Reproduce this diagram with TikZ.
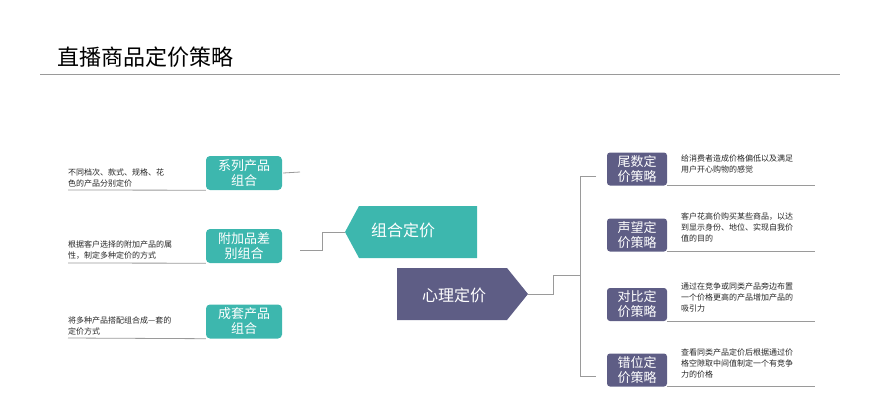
\documentclass[tikz,border=0pt]{standalone}
\usepackage{fontspec}
\setmainfont{Noto Sans CJK SC}
\usetikzlibrary{positioning}
\definecolor{teal1}{HTML}{3DB7AE}
\definecolor{plum1}{HTML}{5E5D85}
\definecolor{rule1}{HTML}{9A9A9A}
\tikzset{
  tealbox/.style={fill=teal1, text=white, minimum width=76pt, minimum height=34pt,
    align=center, inner sep=0pt, font=\fontsize{13}{15}\selectfont, rounded corners=4pt},
  plumbox/.style={fill=plum1, text=white, minimum width=60pt, minimum height=33pt,
    align=center, inner sep=0pt, font=\fontsize{13}{15}\selectfont, rounded corners=3pt},
  note/.style={align=left, inner sep=0pt, text=black!85, font=\fontsize{8}{11}\selectfont},
  conn/.style={draw=rule1, line width=0.8pt}
}
\begin{document}
\begin{tikzpicture}[x=1pt, y=-1pt]
  \useasboundingbox (0,0) rectangle (889,400);

  \node [anchor=west, font=\fontsize{22}{26}\selectfont] (title) at (54,57) {直播商品定价策略};
  \draw [conn] (40,74) -- (840,74);

  % left: bundle pricing
  \node [tealbox] (xilie) at (244,173) {系列产品\\组合};
  \node [tealbox] (fujia) at (244,246) {附加品差\\别组合};
  \node [tealbox] (chengtao) at (244,321.5) {成套产品\\组合};

  \node [note, anchor=south west] (n1) at (68,187) {不同档次、款式、规格、花\\色的产品分别定价};
  \node [note, anchor=south west] (n2) at (68,260) {根据客户选择的附加产品的属\\性，制定多种定价的方式};
  \node [note, anchor=south west] (n3) at (68,335) {将多种产品搭配组合成—套的\\定价方式};
  \draw [conn] (68,190) -- (xilie.south west);
  \draw [conn] (68,263) -- (fujia.south west);
  \draw [conn] (68,338) -- (chengtao.south west);

  \coordinate (tipL) at (345,232);
  \fill [teal1] (tipL) -- (359,206) -- (477,206) -- (477,258) -- (359,258) -- cycle;
  \node [text=white, font=\fontsize{16}{18}\selectfont] (zuhe) at (403,230) {组合定价};
  \coordinate (endA) at (300,172);
  \coordinate (endB) at (300,250);
  \draw [conn] (xilie.east) ++(1,0) -- (endA);
  \draw [conn] (endB) -| (322,232) -- (tipL);

  % right: psychological pricing
  \coordinate (tipR) at (528,294);
  \fill [plum1] (397,268) -- (507,268) -- (tipR) -- (507,320) -- (397,320) -- cycle;
  \node [text=white, font=\fontsize{16}{18}\selectfont] (xinli) at (454,295) {心理定价};

  \node [plumbox] (weishu) at (637,169) {尾数定\\价策略};
  \node [plumbox] (shengwang) at (637,235) {声望定\\价策略};
  \node [plumbox] (duibi) at (637,304.5) {对比定\\价策略};
  \node [plumbox] (cuowei) at (637,370) {错位定\\价策略};

  \draw [conn] (tipR) -- (553,294) |- (580,275);
  \draw [conn] (596,176) -- (580,176) -- (580,376) -- (596,376);

  \node [note, anchor=north west] (m1) at (681,155) {给消费者造成价格偏低以及满足\\用户开心购物的感觉};
  \node [note, anchor=north west] (m2) at (681,213) {客户花高价购买某些商品，以达\\到显示身份、地位、实现自我价\\值的目的};
  \node [note, anchor=north west] (m3) at (681,283) {通过在竞争或同类产品旁边布置\\一个价格更高的产品增加产品的\\吸引力};
  \node [note, anchor=north west] (m4) at (681,349) {查看同类产品定价后根据通过价\\格空隙取中间值制定一个有竞争\\力的价格};
  \draw [conn] (weishu.south east) -- ++(148,0);
  \draw [conn] (shengwang.south east) -- ++(148,0);
  \draw [conn] (duibi.south east) -- ++(148,0);
  \draw [conn] (cuowei.south east) -- ++(148,0);
\end{tikzpicture}
\end{document}
